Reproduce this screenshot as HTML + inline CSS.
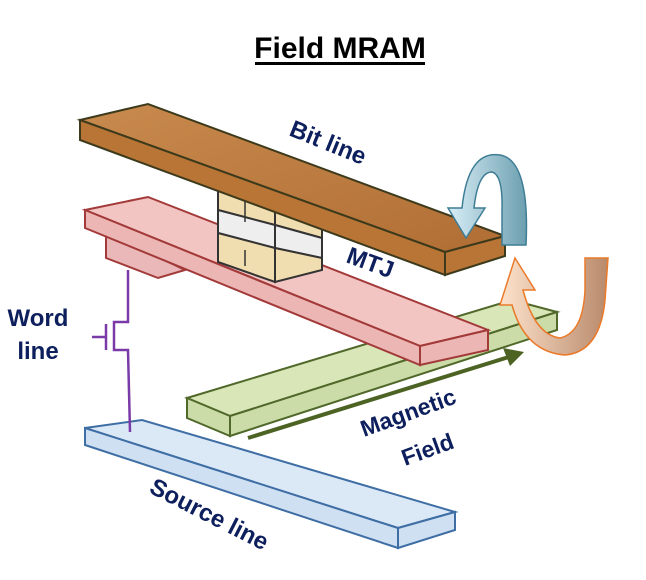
<!DOCTYPE html>
<html><head><meta charset="utf-8"><style>
html,body{margin:0;padding:0;background:#fff;}
svg{display:block;}
text{font-family:"Liberation Sans",Arial,sans-serif;font-weight:bold;fill:#0d1f5c;}
</style></head><body>
<svg width="646" height="580" viewBox="0 0 646 580" xmlns="http://www.w3.org/2000/svg">
<defs>
<linearGradient id="wood" x1="0" y1="0" x2="1" y2="1">
<stop offset="0" stop-color="#c98a4e"/><stop offset="1" stop-color="#b06e34"/></linearGradient>
<linearGradient id="bl" x1="0" y1="0" x2="1" y2="0">
<stop offset="0" stop-color="#d8eef6"/><stop offset="1" stop-color="#6c9fb0"/></linearGradient>
<linearGradient id="or" x1="0" y1="0" x2="1" y2="0">
<stop offset="0" stop-color="#fde3cc"/><stop offset="1" stop-color="#b98a6c"/></linearGradient>
</defs>
<text x="340" y="58" font-size="30" text-anchor="middle" fill="#000" style="fill:#000">Field MRAM</text>
<rect x="255" y="62" width="170" height="3" fill="#000"/>

<!-- Source line -->
<polygon points="85,428 142,420 455,512 398,528" fill="#dbe9f7" stroke="#3f6ea5" stroke-width="2"/>
<polygon points="85,428 398,528 398,548 85,445" fill="#cfe0f3" stroke="#3f6ea5" stroke-width="2"/>
<polygon points="398,528 455,512 455,530 398,548" fill="#cfe0f3" stroke="#3f6ea5" stroke-width="2"/>

<!-- Word line transistor -->
<polyline points="128,270 128,322 114,322 114,350 128,350 130,432" fill="none" stroke="#7a3aa8" stroke-width="2.5"/>
<line x1="106" y1="324" x2="106" y2="350" stroke="#7a3aa8" stroke-width="2.5"/>
<line x1="92" y1="337" x2="106" y2="337" stroke="#7a3aa8" stroke-width="2.5"/>

<!-- Green bar -->
<polygon points="187,398 512,300 557,312 230,416" fill="#d8e6b8" stroke="#50682a" stroke-width="2"/>
<polygon points="230,416 557,312 557,330 230,436" fill="#cbdca8" stroke="#50682a" stroke-width="2"/>
<polygon points="187,398 230,416 230,436 187,418" fill="#cbdca8" stroke="#50682a" stroke-width="2"/>

<!-- Dark green arrow -->
<line x1="248" y1="438" x2="512" y2="356" stroke="#4d6324" stroke-width="4"/>
<polygon points="524,352 503,348 510,366" fill="#4d6324"/>

<!-- Pink electrode -->
<polygon points="106,235 160,258 185,270 158,278 106,258" fill="#eab8b8" stroke="#a33a3a" stroke-width="2"/>
<polygon points="85,210 148,197 488,330 420,346" fill="#f2c4c2" stroke="#a33a3a" stroke-width="2"/>
<polygon points="85,210 420,346 420,365 85,228" fill="#ebb6b4" stroke="#a33a3a" stroke-width="2"/>
<polygon points="420,346 488,330 488,350 420,365" fill="#ebb6b4" stroke="#a33a3a" stroke-width="2"/>

<!-- MTJ stack -->
<polygon points="218,188 275,205 275,225 218,210" fill="#f0ddb0" stroke="#333" stroke-width="2"/>
<polygon points="218,210 275,225 275,248 218,233" fill="#eeeeee" stroke="#333" stroke-width="2"/>
<polygon points="218,233 275,248 275,282 218,262" fill="#f0ddb0" stroke="#333" stroke-width="2"/>
<polygon points="275,205 322,212 322,238 275,225" fill="#f0ddb0" stroke="#333" stroke-width="2"/>
<polygon points="275,225 322,238 322,258 275,248" fill="#eeeeee" stroke="#333" stroke-width="2"/>
<polygon points="275,248 322,258 322,270 275,282" fill="#f0ddb0" stroke="#333" stroke-width="2"/>
<line x1="245" y1="200" x2="245" y2="222" stroke="#333" stroke-width="1.5"/>
<line x1="245" y1="250" x2="245" y2="266" stroke="#333" stroke-width="1.5"/>

<!-- Bit line -->
<polygon points="80,120 148,104 505,236 445,252" fill="url(#wood)" stroke="#3d3a1c" stroke-width="2"/>
<polygon points="80,120 445,252 445,275 80,140" fill="#b87536" stroke="#3d3a1c" stroke-width="2"/>
<polygon points="445,252 505,236 505,256 445,275" fill="#b87536" stroke="#3d3a1c" stroke-width="2"/>

<!-- Blue curved arrow -->
<path d="M502,245 L526,245 Q530,160 500,155 Q468,150 462,208 L448,208 L466,238 L485,208 L474,208 Q478,172 492,172 Q503,175 502,210 Z" fill="url(#bl)" stroke="#3e7d95" stroke-width="1.5"/>

<!-- Orange curved arrow -->
<path d="M585,258 L608,258 L605,300 Q600,352 565,355 Q525,352 512,305 L500,305 L515,258 L535,290 L523,290 Q535,335 560,338 Q583,333 585,290 Z" fill="url(#or)" stroke="#ea7a2a" stroke-width="1.5"/>

<!-- Labels -->
<text transform="translate(288,135) rotate(22)" font-size="24">Bit line</text>
<text transform="translate(345,262) rotate(20)" font-size="24">MTJ</text>
<text x="38" y="326" font-size="24" text-anchor="middle">Word</text>
<text x="38" y="359" font-size="24" text-anchor="middle">line</text>
<text transform="translate(364,437) rotate(-20)" font-size="23">Magnetic</text>
<text transform="translate(405,466) rotate(-20)" font-size="23">Field</text>
<text transform="translate(148,492) rotate(27)" font-size="24">Source line</text>
</svg>
</body></html>
